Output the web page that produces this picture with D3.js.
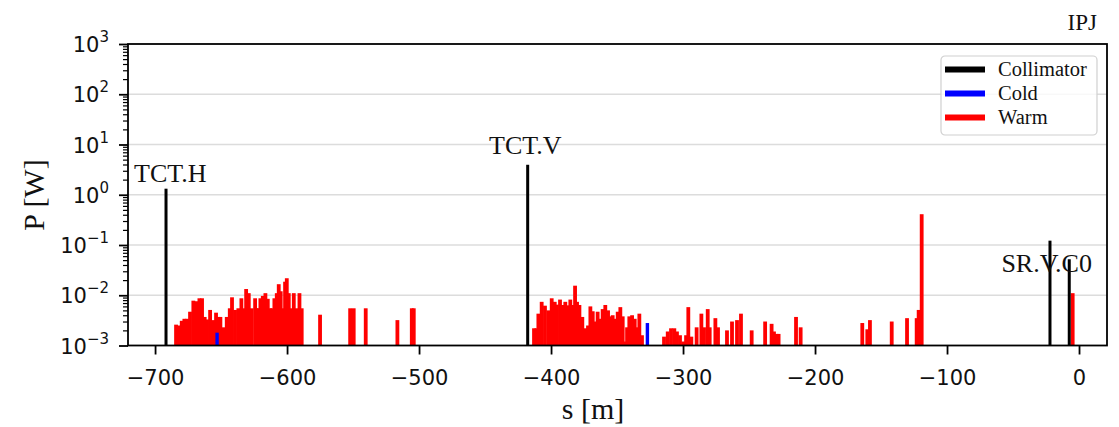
<!DOCTYPE html>
<html>
<head>
<meta charset="utf-8">
<script src="https://cdn.jsdelivr.net/npm/d3@7"></script>
<style>
  html, body { margin: 0; padding: 0; background: #fff; }
  #chart { width: 1119px; height: 427px; }
</style>
</head>
<body>
<div id="chart"></div>
<script>
// data: s position [m] and power [W]
const collimatorS = [-691.7, -417.7, -22.0, -7.4];
const collimatorP = [1.32, 3.95, 0.122, 0.052];

const coldS = [-653.0, -327.0];
const coldP = [0.0018, 0.0028];

const warmS = [
  -684.1, -682.3, -679.8, -677.8, -675.7, -673.5, -671.0, -668.4, -666.4, -664.4,
  -662.4, -660.6, -658.3, -655.8, -653.8, -652.0, -650.5, -648.2, -645.7, -643.4,
  -641.7, -639.4, -636.9, -634.6, -632.6, -631.0, -629.0, -626.8, -624.2, -623.1,
  -622.0, -620.2, -618.4, -616.4, -614.6, -612.9, -611.3, -609.6, -607.8, -606.3,
  -604.8, -603.3, -601.5, -600.2, -598.7, -596.7, -594.9, -592.7, -590.6, -588.9,
  -575.0, -552.2, -549.5, -540.4, -516.4, -505.5, -504.0,
  -412.9, -411.1, -409.6, -407.1, -404.6, -402.0, -399.5, -397.2, -395.5, -393.2,
  -391.2, -389.2, -387.1, -385.4, -383.6, -381.8, -380.3, -378.5, -376.3, -374.0,
  -372.0, -370.2, -368.4, -366.4, -364.7, -362.6, -360.9, -358.9, -356.8, -355.1,
  -353.3, -351.3, -349.5, -347.5, -345.7, -344.0, -342.4, -340.7, -338.6, -336.6,
  -334.8, -333.1, -331.1,
  -314.4, -311.6, -309.1, -306.6, -304.6, -302.3, -299.8, -297.7, -296.0, -293.7,
  -289.7, -286.1, -284.1, -281.3, -279.8, -275.5, -273.5, -266.7, -262.9, -259.1,
  -256.1, -248.0, -237.8, -232.9, -231.1, -229.1, -227.6, -214.4, -210.9,
  -164.2, -160.4, -158.4, -141.9, -130.3, -123.0, -121.5, -119.2, -4.8
];
const warmP = [
  0.0026, 0.0025, 0.0031, 0.0034, 0.0034, 0.0047, 0.0078, 0.0076, 0.0087, 0.0087,
  0.0037, 0.0033, 0.0051, 0.0032, 0.0045, 0.0037, 0.0037, 0.0023, 0.0037, 0.0055,
  0.0091, 0.0051, 0.0055, 0.0087, 0.0055, 0.0133, 0.0110, 0.0055, 0.0087, 0.0055,
  0.0055, 0.0087, 0.0097, 0.0110, 0.0085, 0.0055, 0.0055, 0.0087, 0.0110, 0.0166,
  0.0120, 0.0055, 0.0186, 0.0218, 0.0110, 0.0055, 0.0110, 0.0055, 0.0110, 0.0055,
  0.0041, 0.0055, 0.0055, 0.0055, 0.0032, 0.0055, 0.0055,
  0.0022, 0.0022, 0.0043, 0.0074, 0.0062, 0.0050, 0.0087, 0.0074, 0.0065, 0.0082,
  0.0064, 0.0074, 0.0063, 0.0082, 0.0064, 0.0155, 0.0074, 0.0064, 0.0037, 0.0022,
  0.0025, 0.0060, 0.0048, 0.0030, 0.0047, 0.0034, 0.0053, 0.0064, 0.0050, 0.0038,
  0.0040, 0.0034, 0.0047, 0.0058, 0.0038, 0.0012, 0.0023, 0.0038, 0.0040, 0.0034,
  0.0023, 0.0043, 0.0016,
  0.0015, 0.0019, 0.0022, 0.0022, 0.0019, 0.0016, 0.0012, 0.0016, 0.0058, 0.0015,
  0.0023, 0.0043, 0.0023, 0.0053, 0.0023, 0.0035, 0.0023, 0.0020, 0.0030, 0.0032,
  0.0043, 0.0020, 0.0030, 0.0027, 0.0019, 0.0017, 0.0017, 0.0037, 0.0023,
  0.0028, 0.0021, 0.0032, 0.0030, 0.0035, 0.0035, 0.0051, 0.41, 0.011
];

const labelNames = ['TCT.H', 'TCT.V', 'SR.V.C0'];
const labelS = [-688.5, -419.5, -24.5];
const labelP = [1.8, 6.5, 0.029];

const xTicks = [-700, -600, -500, -400, -300, -200, -100, 0];
const yExponents = [-3, -2, -1, 0, 1, 2, 3];

const seriesNames = ['Collimator', 'Cold', 'Warm'];
const seriesColors = ['#000000', '#0000ff', '#ff0000'];

// layout
const W = 1119, H = 427;
const plot = {l: 128, r: 1107, t: 44, b: 345.5};
const serif = '"Liberation Serif", "Times New Roman", serif';
const sans = '"DejaVu Sans", sans-serif';
const minus = s => String(s).replace('-', '\u2212');

const x = d3.scaleLinear().domain([-720.5, 21.2]).range([plot.l, plot.r]);
const y = d3.scaleLog().domain([1e-3, 1e3]).range([plot.b, plot.t]);

const svg = d3.select('#chart').append('svg')
    .attr('width', W)
    .attr('height', H)
    .style('font-family', serif);

// grid lines at each decade
svg.append('g').selectAll('line')
    .data(yExponents.slice(1, -1))
    .join('line')
    .attr('x1', plot.l).attr('x2', plot.r)
    .attr('y1', d => y(Math.pow(10, d))).attr('y2', d => y(Math.pow(10, d)))
    .attr('stroke', '#dcdcdc')
    .attr('stroke-width', 1.5);

// bars
function drawBars(sArr, pArr, color, cls, w) {
    svg.append('g').classed(cls, true)
        .selectAll('rect')
        .data(sArr.map((s, i) => ({s, p: pArr[i]})))
        .join('rect')
        .attr('x', d => x(d.s) - w / 2)
        .attr('width', w)
        .attr('y', d => y(d.p))
        .attr('height', d => y(1e-3) - y(d.p))
        .attr('fill', color);
}
drawBars(warmS, warmP, seriesColors[2], 'warm', 3.8);
drawBars(coldS, coldP, seriesColors[1], 'cold', 3.4);
drawBars(collimatorS, collimatorP, seriesColors[0], 'collimator', 3);

// annotations
svg.append('g').selectAll('text')
    .data(labelNames)
    .join('text')
    .attr('x', (d, i) => x(labelS[i]))
    .attr('y', (d, i) => y(labelP[i]))
    .attr('text-anchor', 'middle')
    .attr('font-size', 26)
    .attr('fill', '#111')
    .text(d => d);

// x axis
const xAxis = d3.axisBottom(x).tickValues(xTicks).tickSize(9).tickPadding(14)
    .tickFormat(d => minus(d));
const gx = svg.append('g')
    .attr('transform', `translate(0,${plot.b})`)
    .call(xAxis);
gx.select('.domain').remove();
gx.selectAll('.tick line').attr('stroke', '#000').attr('stroke-width', 1.8);
gx.selectAll('.tick text')
    .attr('font-family', sans).attr('font-size', 21).attr('fill', '#111')
    .attr('dy', '0.8em');

// y axis (log, major + minor)
const minorVals = [];
yExponents.slice(0, -1).forEach(e => {
    for (let k = 2; k <= 9; k++) minorVals.push(k * Math.pow(10, e));
});
const gyMinor = svg.append('g')
    .attr('transform', `translate(${plot.l},0)`)
    .call(d3.axisLeft(y).tickValues(minorVals).tickSize(5).tickFormat(''));
gyMinor.select('.domain').remove();
gyMinor.selectAll('.tick line').attr('stroke', '#000').attr('stroke-width', 1.2);

const gy = svg.append('g')
    .attr('transform', `translate(${plot.l},0)`)
    .call(d3.axisLeft(y).tickValues(yExponents.map(e => Math.pow(10, e)))
        .tickSize(9).tickPadding(10).tickFormat(''));
gy.select('.domain').remove();
gy.selectAll('.tick line').attr('stroke', '#000').attr('stroke-width', 1.8);
gy.selectAll('.tick').each(function(d) {
    const e = Math.round(Math.log10(d));
    const t = d3.select(this).append('text')
        .attr('x', 0)
        .attr('y', 0)
        .attr('dy', '0.36em')
        .attr('text-anchor', 'start')
        .attr('font-family', sans)
        .attr('font-size', 21)
        .attr('fill', '#111');
    t.append('tspan').text('10');
    t.append('tspan').attr('dy', -10).attr('font-size', 15).text(minus(e));
    // right-align at a fixed gap from the spine
    const bb = t.node().getBBox();
    t.attr('x', -19 - bb.width);
});

// frame
svg.append('rect')
    .attr('x', plot.l).attr('y', plot.t)
    .attr('width', plot.r - plot.l).attr('height', plot.b - plot.t)
    .attr('fill', 'none').attr('stroke', '#000').attr('stroke-width', 1.8);

// axis titles
svg.append('text')
    .attr('x', 593).attr('y', 419)
    .attr('text-anchor', 'middle').attr('font-size', 30).attr('fill', '#111')
    .text('s [m]');
svg.append('text')
    .attr('transform', `translate(44,195) rotate(-90)`)
    .attr('text-anchor', 'middle').attr('font-size', 30).attr('fill', '#111')
    .text('P [W]');

// corner label
svg.append('text')
    .attr('x', 1097).attr('y', 30)
    .attr('text-anchor', 'end').attr('font-size', 23).attr('fill', '#111')
    .text('IPJ');

// legend
const lg = svg.append('g').attr('transform', 'translate(941,56)');
lg.append('rect')
    .attr('width', 156).attr('height', 79).attr('rx', 4)
    .attr('fill', 'rgba(255,255,255,0.8)')
    .attr('stroke', '#d0d0d0').attr('stroke-width', 1.2);
const rows = lg.selectAll('.row')
    .data(seriesNames)
    .join('g')
    .attr('class', 'row')
    .attr('transform', (d, i) => `translate(0,${13.5 + i * 24})`);
rows.append('line')
    .attr('x1', 4).attr('x2', 44)
    .attr('stroke', (d, i) => seriesColors[i])
    .attr('stroke-width', 6);
rows.append('text')
    .attr('x', 57).attr('dy', '0.33em')
    .attr('font-size', 20.5).attr('fill', '#111')
    .text(d => d);
</script>
</body>
</html>
